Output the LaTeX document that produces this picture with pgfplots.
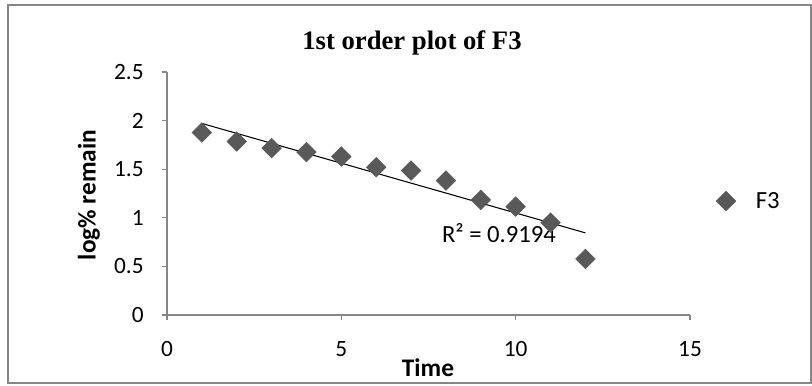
\documentclass[border=0pt]{standalone}
\usepackage{pgfplots}
\pgfplotsset{compat=1.18}
\usepackage{fontspec}
\setmainfont{Carlito}
\newfontfamily\titlefont{Liberation Serif}
\definecolor{axgray}{HTML}{868686}
\definecolor{mkgray}{HTML}{595959}
\begin{document}
\begin{tikzpicture}
\useasboundingbox (-125.25pt,-52.5pt) rectangle (483.75pt,236.25pt);
\draw[axgray, line width=0.9pt] (-119.25pt,-51pt) rectangle (483pt,232.5pt);
\begin{axis}[
  at={(0pt,0pt)}, anchor=south west,
  scale only axis, width=392.25pt, height=182.25pt,
  xmin=0, xmax=15, ymin=0, ymax=2.5,
  xtick={0,5,10,15}, ytick={0,0.5,1,1.5,2,2.5},
  axis x line*=bottom, axis y line*=left,
  axis line style={axgray, line width=0.8pt, -},
  tick style={axgray, line width=0.8pt},
  tick align=outside, major tick length=4pt,
  /pgf/number format/assume math mode=true,
  tick label style={font=\fontsize{17.5}{20}\selectfont, black},
  xticklabel style={yshift=-12pt},
  yticklabel style={xshift=-10pt},
  clip=false,
  legend style={draw=none, fill=none, at={(1.042,0.469)}, anchor=west, font=\fontsize{18.5}{22}\selectfont},
  legend cell align=left,
]
\addplot[only marks, mark=square*, mark options={rotate=45, fill=mkgray, draw=mkgray}, mark size=5.2pt] table {
x y
1 1.877
2 1.785
3 1.717
4 1.676
5 1.630
6 1.520
7 1.486
8 1.383
9 1.184
10 1.115
11 0.950
12 0.577
};
\addlegendentry{\hspace{13pt}F3}
\addplot[black, line width=0.8pt, forget plot] table {
x y
1 1.971
12 0.845
};
\node[font=\fontsize{18.5}{22}\selectfont, anchor=base] at (axis cs:9.52,0.748) {R² = 0.9194};
\end{axis}
\node[font=\titlefont\bfseries\fontsize{20}{24}\selectfont, anchor=base] at (183.75pt,198.75pt) {1st order plot of F3};
\node[font=\bfseries\fontsize{19}{22}\selectfont, rotate=90, anchor=center] at (-58.5pt,90pt) {log\% remain};
\node[font=\bfseries\fontsize{19}{22}\selectfont, anchor=center] at (195.75pt,-39.75pt) {Time};
\end{tikzpicture}
\end{document}
